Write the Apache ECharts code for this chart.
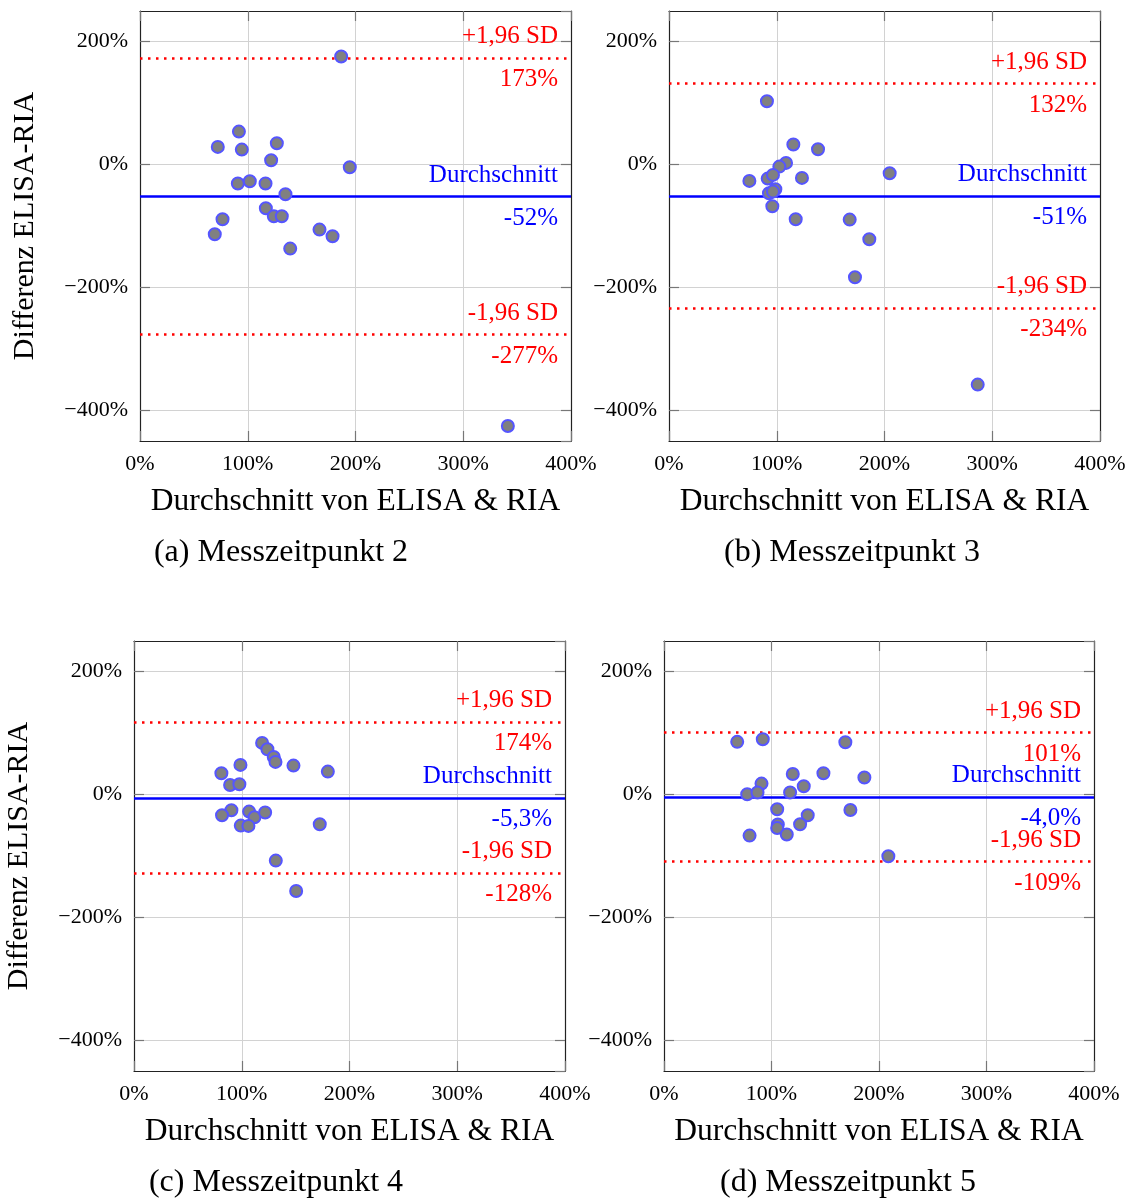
<!DOCTYPE html>
<html>
<head>
<meta charset="utf-8">
<script src="https://cdn.jsdelivr.net/npm/echarts@6/dist/echarts.min.js"></script>
<style>
  html, body { margin: 0; padding: 0; background: #fff; }
  #chart { width: 1133px; height: 1198px; }
</style>
</head>
<body>
<div id="chart"></div>
<script>
// Bland-Altman plots, ELISA vs RIA, four measurement times
const avgA = [186.7, 91.8, 72.2, 94.5, 127, 121.7, 194.7, 90.8, 101.9, 116.5, 135, 116.8, 124.2, 131.6, 76.6, 69.4, 166.6, 178.7, 139.4, 341.4];
const diffA = [175.9, 53.7, 28.8, 24.4, 34.7, 7.1, -4.3, -30.9, -27.1, -30.9, -48.3, -71.1, -84.1, -84.1, -89, -113.5, -105.9, -116.7, -136.8, -425.6];

const avgB = [90.9, 115.4, 138.3, 108.6, 102.4, 204.8, 74.6, 91.6, 96.5, 123.4, 98.7, 92.8, 96.5, 95.9, 117.6, 167.7, 185.9, 172.6, 286.5];
const diffB = [103.1, 32.6, 25, 2.7, -3.3, -14.1, -26.6, -22.8, -16.8, -21.7, -40.2, -46.7, -44, -67.9, -89, -89.6, -121.6, -183.5, -358.2];

const avgC = [118.9, 123.8, 129.7, 131.3, 148, 179.9, 98.8, 81.1, 89.2, 97.8, 90.4, 81.7, 106.8, 111.8, 121.7, 99.1, 106.2, 172.4, 131.6, 150.5];
const diffC = [84.1, 73.8, 61.3, 53.2, 47.2, 37.4, 48.3, 34.7, 15.7, 16.8, -25.5, -33.6, -27.7, -36.9, -29.3, -50.5, -51, -48.3, -107.5, -156.9];

const avgD = [68.1, 91.9, 168.7, 119.8, 148.3, 186.4, 90.7, 130, 77.4, 87, 117.3, 105.3, 173.4, 133.7, 105.9, 105.3, 126.6, 114.2, 79.6, 208.7];
const diffD = [85.8, 90.1, 85.2, 33.6, 34.7, 27.7, 17.9, 13.6, 0.5, 3.3, 3.3, -23.9, -25, -33.6, -48.8, -54.3, -48.3, -65.1, -66.8, -100.4];

const meanLines = [-52, -51, -5.3, -4.0];
const upperLines = [173, 132, 118, 101];
const lowerLines = [-277, -234, -128, -109];
const meanLabels = ['-52%', '-51%', '-5,3%', '-4,0%'];
const upperLabels = ['173%', '132%', '174%', '101%'];
const lowerLabels = ['-277%', '-234%', '-128%', '-109%'];
const captions = ['(a) Messzeitpunkt 2', '(b) Messzeitpunkt 3', '(c) Messzeitpunkt 4', '(d) Messzeitpunkt 5'];

const xTitle = 'Durchschnitt von ELISA & RIA';
const yTitle = 'Differenz ELISA-RIA';

const SERIF = '"Liberation Serif", "DejaVu Serif", serif';
const RED = '#ff0000';
const BLUE = '#0000ff';

const panels = [
  { avg: avgA, diff: diffA, grid: { left: 140, top: 11, width: 431, height: 430 }, cap: [281, 553], yName: true },
  { avg: avgB, diff: diffB, grid: { left: 669, top: 11, width: 431, height: 430 }, cap: [852, 553], yName: false },
  { avg: avgC, diff: diffC, grid: { left: 134, top: 641, width: 431, height: 430 }, cap: [276, 1183], yName: true },
  { avg: avgD, diff: diffD, grid: { left: 664, top: 641, width: 430, height: 430 }, cap: [848, 1183], yName: false },
];

function pct(v) {
  return (v < 0 ? '\u2212' + (-v) : String(v)) + '%';
}

const frame = { show: true, onZero: false, lineStyle: { color: '#222', width: 1.2 } };
const tick = { show: true, inside: true, length: 10, lineStyle: { color: '#777', width: 1.2 } };
const grid = { show: true, lineStyle: { color: '#d2d2d2', width: 1 } };

function sdLine(value, top, bottom, color, style) {
  const lbl = (text, pos, dist) => ({
    show: true, position: pos, formatter: text, distance: dist,
    color, fontSize: 25, fontFamily: SERIF, opacity: 1,
  });
  return [
    { yAxis: value, lineStyle: style, label: lbl(top, 'insideEndTop', [13, 9]) },
    { yAxis: value, lineStyle: { color: 'rgba(0,0,0,0)', width: 0, type: 'solid' }, label: lbl(bottom, 'insideEndBottom', [13, 9]) },
  ];
}

const xAxes = [];
const yAxes = [];
const series = [];
const graphics = [];

panels.forEach((p, i) => {
  xAxes.push({
    gridIndex: i, type: 'value', min: 0, max: 400, interval: 100, position: 'bottom',
    axisLine: frame, axisTick: tick, splitLine: grid,
    axisLabel: { formatter: pct, fontSize: 22, fontFamily: SERIF, color: '#000', margin: 12 },
    name: xTitle, nameLocation: 'middle', nameGap: 45,
    nameTextStyle: { fontSize: 31.5, fontFamily: SERIF, color: '#000' },
  });
  xAxes.push({
    gridIndex: i, type: 'value', min: 0, max: 400, interval: 100, position: 'top',
    axisLine: frame, axisTick: tick, splitLine: { show: false }, axisLabel: { show: false },
  });
  yAxes.push({
    gridIndex: i, type: 'value', min: -450, max: 250, splitNumber: 3, position: 'left',
    axisLine: frame, axisTick: tick, splitLine: grid,
    axisLabel: {
      formatter: pct, fontSize: 22, fontFamily: SERIF, color: '#000', margin: 12,
      showMinLabel: false, showMaxLabel: false,
    },
    name: p.yName ? yTitle : '', nameLocation: 'middle', nameGap: 100,
    nameTextStyle: { fontSize: 30, fontFamily: SERIF, color: '#000' },
  });
  yAxes.push({
    gridIndex: i, type: 'value', min: -450, max: 250, splitNumber: 3, position: 'right',
    axisLine: frame, axisTick: tick, splitLine: { show: false }, axisLabel: { show: false },
  });

  const dotted = { color: RED, width: 2.5, type: [2.5, 5.5] };
  series.push({
    type: 'scatter', xAxisIndex: 2 * i, yAxisIndex: 2 * i, data: [], z: 1, silent: true,
    markLine: {
      symbol: ['none', 'none'], silent: true, animation: false,
      data: [
        ...sdLine(upperLines[i], '+1,96 SD', upperLabels[i], RED, dotted),
        ...sdLine(meanLines[i], 'Durchschnitt', meanLabels[i], BLUE, { color: BLUE, width: 2.5, type: 'solid' }),
        ...sdLine(lowerLines[i], '-1,96 SD', lowerLabels[i], RED, dotted),
      ],
    },
  });
  series.push({
    type: 'scatter', xAxisIndex: 2 * i, yAxisIndex: 2 * i, z: 5,
    data: p.avg.map((x, k) => [x, p.diff[k]]),
    symbolSize: 12,
    itemStyle: { color: '#808080', borderColor: '#5555ff', borderWidth: 2, opacity: 1 },
  });

  graphics.push({
    type: 'text', x: p.cap[0], y: p.cap[1],
    style: { text: captions[i], fill: '#000', font: '32px ' + SERIF, textAlign: 'center', textVerticalAlign: 'middle' },
  });
});

const chart = echarts.init(document.getElementById('chart'), null, { renderer: 'canvas' });
chart.setOption({
  animation: false,
  backgroundColor: '#fff',
  grid: panels.map((p) => p.grid),
  xAxis: xAxes,
  yAxis: yAxes,
  series,
  graphic: graphics,
});
</script>
</body>
</html>
